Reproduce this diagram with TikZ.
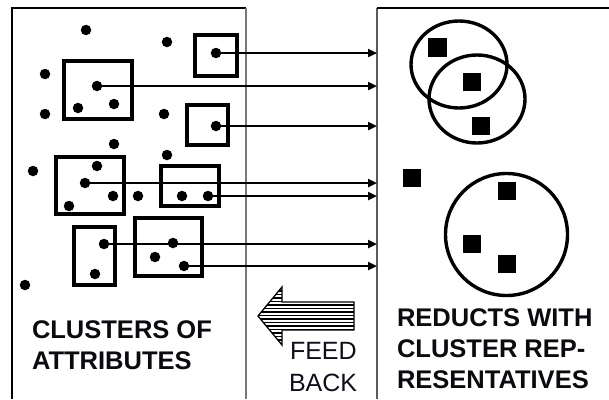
\documentclass[tikz,border=0pt]{standalone}
\usepackage{xcolor}
\usepackage{fontspec}
\setmainfont{Liberation Sans}
\usepackage{tikz}
\usetikzlibrary{arrows.meta}

\tikzset{
  dot/.style={circle,fill=black,inner sep=0pt,minimum size=10.5pt},
  repsq/.style={rectangle,fill=black,inner sep=0pt,minimum size=18.5pt},
  clusterbox/.style={draw=black,line width=4.8pt,fill=none},
  ring/.style={draw=black,line width=3.4pt,fill=none},
  flow/.style={draw=black,line width=2.8pt,-{Triangle[length=9pt,width=8pt]}},
  panel/.style={draw=black,line width=1.5pt},
  label/.style={inner sep=0pt,outer sep=0pt,anchor=base west,text={rgb,255:red,10;green,10;blue,15},font=\bfseries\fontsize{25.5}{30}\selectfont},
  fblabel/.style={inner sep=0pt,outer sep=0pt,anchor=base west,text={rgb,255:red,15;green,15;blue,25},font=\fontsize{25}{30}\selectfont}
}

\begin{document}
\begin{tikzpicture}[x=1pt,y=-1pt]
\path[use as bounding box] (0,0) rectangle (609,399);
\path[fill=white,draw=none] (0,0) rectangle (609,399);
% panels
\draw[panel] (12,399) -- (12,8) -- (246,8);
\draw[panel,draw={rgb,255:red,120;green,120;blue,120}] (246,8) -- (246,399);
\draw[panel,draw={rgb,255:red,90;green,90;blue,90}] (377,399) -- (377,8);
\draw[panel] (377,8) -- (609,8);
\coordinate (redge) at (377,0);
% clusters of attributes
\draw[clusterbox] (64,61) rectangle (132,119);
\draw[clusterbox] (195,35) rectangle (237,76);
\draw[clusterbox] (187,105) rectangle (228,145);
\draw[clusterbox] (56,157) rectangle (124,214);
\draw[clusterbox] (161,166) rectangle (219,206);
\draw[clusterbox] (74,227) rectangle (115,285);
\draw[clusterbox] (135,218) rectangle (202,276);
% attributes
\node[dot] (a1) at (86,30) {};
\node[dot] (a2) at (167,42) {};
\node[dot] (a3) at (45,74) {};
\node[dot] (a4) at (97,86) {};
\node[dot] (a5) at (78,108) {};
\node[dot] (a6) at (114,104) {};
\node[dot] (a7) at (45,114) {};
\node[dot] (a8) at (164,114) {};
\node[dot] (a9) at (114,144) {};
\node[dot] (a10) at (167,155) {};
\node[dot] (a11) at (33,171) {};
\node[dot] (a12) at (97,166) {};
\node[dot] (a13) at (85,183) {};
\node[dot] (a14) at (216,53) {};
\node[dot] (a15) at (216,126) {};
\node[dot] (a16) at (113,196) {};
\node[dot] (a17) at (138,196) {};
\node[dot] (a18) at (182,196) {};
\node[dot] (a19) at (208,196) {};
\node[dot] (a20) at (69,206) {};
\node[dot] (a21) at (104,244) {};
\node[dot] (a22) at (95,274) {};
\node[dot] (a23) at (173,243) {};
\node[dot] (a24) at (155,257) {};
\node[dot] (a25) at (184,266) {};
\node[dot] (a26) at (25,285) {};
% representatives sent across
\draw[flow] (a14.center) -- (a14 -| redge);
\draw[flow] (a4.center) -- (a4 -| redge);
\draw[flow] (a15.center) -- (a15 -| redge);
\draw[flow] (a13.center) -- (a13 -| redge);
\draw[flow] (a19.center) -- (a19 -| redge);
\draw[flow] (a21.center) -- (a21 -| redge);
\draw[flow] (a25.center) -- (a25 -| redge);
% reducts
\draw[ring] (459,64.5) ellipse [x radius=48pt,y radius=43.5pt];
\draw[ring] (477,99) ellipse [x radius=48pt,y radius=44pt];
\draw[ring] (506.5,234.5) circle [radius=61pt];
\node[repsq] (r1) at (437.5,47.5) {};
\node[repsq] (r2) at (472,82) {};
\node[repsq] (r3) at (481,126) {};
\node[repsq] (r4) at (412,178) {};
\node[repsq] (r5) at (507,191) {};
\node[repsq] (r6) at (472,244) {};
\node[repsq] (r7) at (507,264) {};
% feedback arrow
\begin{scope}
\clip (258,316) -- (282,287) -- (282,302) -- (354,302) -- (354,330) -- (282,330) -- (282,345) -- cycle;
\foreach \hy in {287.5,291,...,346} \draw[line width=1.8pt] (250,\hy) -- (360,\hy);
\end{scope}
\draw[line width=1.3pt,line join=miter] (258,316) -- (282,287) -- (282,302) -- (354,302) -- (354,330) -- (282,330) -- (282,345) -- cycle;
% labels
\node[label] (cl1) at (32,338) {CLUSTERS OF};
\node[label] (cl2) at (32,369) {ATTRIBUTES};
\node[label] (rd1) at (397,326) {REDUCTS WITH};
\node[label] (rd2) at (397,357) {CLUSTER REP-};
\node[label] (rd3) at (397,388) {RESENTATIVES};
\node[fblabel] (fb1) at (290,359) {FEED};
\node[fblabel] (fb2) at (289,391) {BACK};
\end{tikzpicture}
\end{document}
